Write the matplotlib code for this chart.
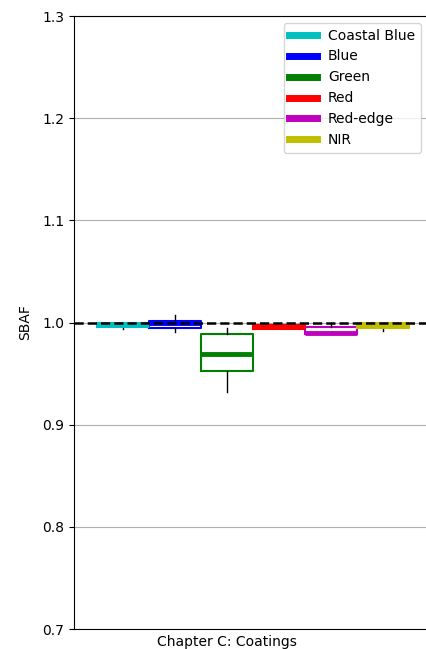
import numpy as np
import matplotlib.pyplot as plt

bands = ['Coastal Blue', 'Blue', 'Green', 'Red', 'Red-edge', 'NIR']
colors = ['c', 'b', 'g', 'r', 'm', 'y']
q1 = [0.996, 0.995, 0.953, 0.994, 0.989, 0.995]
q3 = [1.000, 1.001, 0.989, 0.998, 0.996, 1.000]
med = [0.998, 1.000, 0.969, 0.996, 0.990, 0.997]
lo = [0.994, 0.991, 0.932, 0.994, 0.989, 0.992]
hi = [1.000, 1.007, 0.995, 0.998, 1.000, 1.000]
xlabel = 'Chapter C: Coatings'

fig = plt.figure(figsize=(4.26, 6.49), dpi=100)
ax = fig.add_axes([0.174, 0.0308, 0.83, 0.9445])

pos = np.arange(1, len(bands) + 1)
for i in range(len(bands)):
    st = [dict(med=med[i], q1=q1[i], q3=q3[i], whislo=lo[i], whishi=hi[i], fliers=[])]
    ax.bxp(st, positions=[pos[i]], widths=1.0, showcaps=False,
           boxprops=dict(color=colors[i], linewidth=1.5),
           medianprops=dict(color=colors[i], linewidth=3.5),
           whiskerprops=dict(color='k', linewidth=1.0),
           manage_ticks=False)
    ax.plot([], [], color=colors[i], linewidth=5, label=bands[i])

ax.axhline(1.0, color='k', linestyle='--', linewidth=1.8, zorder=5)

ax.set_ylim(0.7, 1.3)
ax.set_xlim(0.05, 6.87)
ax.set_xticks([3])
ax.set_xticklabels([xlabel])
ax.tick_params(axis='x', length=0, pad=4)
ax.yaxis.grid(True, color='#b0b0b0', linewidth=0.8)
ax.set_axisbelow(True)
ax.spines['right'].set_visible(False)
ax.set_ylabel('SBAF', labelpad=7)
ax.legend(loc='upper right', fontsize=10, handlelength=2.0)

fig.savefig('out.png', dpi=100)
